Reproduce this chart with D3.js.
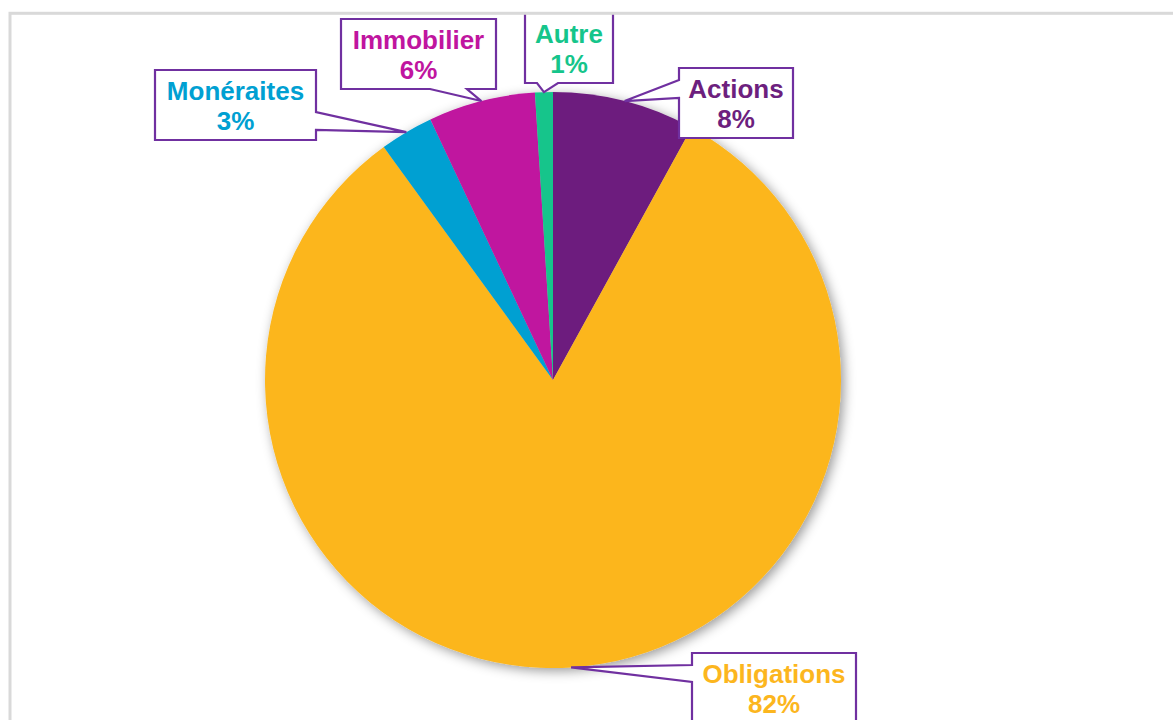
<!DOCTYPE html>
<html lang="fr">
<head>
<meta charset="utf-8">
<title>Répartition des actifs</title>
<script src="https://cdn.jsdelivr.net/npm/d3@7"></script>
<style>
  html, body { margin: 0; padding: 0; background: #ffffff; }
  svg { display: block; }
  text { font-family: "Liberation Sans", Arial, sans-serif; font-weight: bold; }
</style>
</head>
<body>
<svg id="chart" width="1173" height="720"></svg>
<script>
// Asset classes, clockwise from 12 o'clock
const categories = ["Actions", "Obligations", "Monéraites", "Immobilier", "Autre"];
const shares = [8, 82, 3, 6, 1];
const colors = ["#6d1f7e", "#fcb61e", "#00a0d2", "#c0159f", "#15c58b"];

// Callout boxes: left, top, width, height, side carrying the pointer, pointer base span
const boxLeft   = [679, 692, 155, 341, 525];
const boxTop    = [68, 653, 70, 19, 13];
const boxWidth  = [114, 164, 161, 155, 88];
const boxHeight = [70, 70, 70, 70, 70];
const boxSide   = ["left", "left", "right", "bottom", "bottom"];
const notchFrom = [12, 12, 42, 89, 12];
const notchTo   = [30, 29, 60, 126, 33];

const W = 1173, H = 720;
const cx = 553, cy = 380, radius = 288;
const calloutStroke = "#7030a0";

const svg = d3.select("#chart");
const defs = svg.append("defs");
const shadow = defs.append("filter")
  .attr("id", "pieShadow")
  .attr("x", "-20%").attr("y", "-20%")
  .attr("width", "140%").attr("height", "140%");
shadow.append("feDropShadow")
  .attr("dx", 3).attr("dy", 3)
  .attr("stdDeviation", 6)
  .attr("flood-color", "#000")
  .attr("flood-opacity", 0.4);

const pie = d3.pie().sort(null).value(d => d)(shares);
const arc = d3.arc().innerRadius(0).outerRadius(radius);
const rim = d3.arc().innerRadius(radius).outerRadius(radius);

const g = svg.append("g").attr("transform", `translate(${cx},${cy})`);
g.append("g")
  .attr("filter", "url(#pieShadow)")
  .selectAll("path")
  .data(pie)
  .join("path")
  .attr("d", arc)
  .attr("fill", (d, i) => colors[i]);

// Callout outline: rectangle with a pointer running to the slice rim
function calloutPath(i, tip) {
  const x0 = boxLeft[i], y0 = boxTop[i];
  const x1 = x0 + boxWidth[i], y1 = y0 + boxHeight[i];
  const a = notchFrom[i], b = notchTo[i];
  const p = d3.path();
  p.moveTo(x0, y0);
  p.lineTo(x1, y0);
  if (boxSide[i] === "right") {
    p.lineTo(x1, y0 + a); p.lineTo(tip[0], tip[1]); p.lineTo(x1, y0 + b);
  }
  p.lineTo(x1, y1);
  if (boxSide[i] === "bottom") {
    p.lineTo(x0 + b, y1); p.lineTo(tip[0], tip[1]); p.lineTo(x0 + a, y1);
  }
  p.lineTo(x0, y1);
  if (boxSide[i] === "left") {
    p.lineTo(x0, y0 + b); p.lineTo(tip[0], tip[1]); p.lineTo(x0, y0 + a);
  }
  p.closePath();
  return p.toString();
}

const labels = svg.append("g").selectAll("g")
  .data(pie)
  .join("g");

labels.append("path")
  .attr("d", (d, i) => {
    const c = rim.centroid(d);
    return calloutPath(i, [cx + c[0], cy + c[1]]);
  })
  .attr("fill", "#ffffff")
  .attr("stroke", calloutStroke)
  .attr("stroke-width", 2.2)
  .attr("stroke-linejoin", "miter");

const txt = labels.append("text")
  .attr("text-anchor", "middle")
  .attr("font-size", 26)
  .attr("fill", (d, i) => colors[i]);
txt.append("tspan")
  .attr("x", (d, i) => boxLeft[i] + boxWidth[i] / 2)
  .attr("y", (d, i) => boxTop[i] + 30)
  .text((d, i) => categories[i]);
txt.append("tspan")
  .attr("x", (d, i) => boxLeft[i] + boxWidth[i] / 2)
  .attr("y", (d, i) => boxTop[i] + 60)
  .text(d => d3.format(".0f")(d.value) + "%");

// Chart area frame
svg.append("rect")
  .attr("x", 10).attr("y", 13.3)
  .attr("width", W + 20).attr("height", H + 20)
  .attr("fill", "none")
  .attr("stroke", "#d9d9d9")
  .attr("stroke-width", 3);
</script>
</body>
</html>
